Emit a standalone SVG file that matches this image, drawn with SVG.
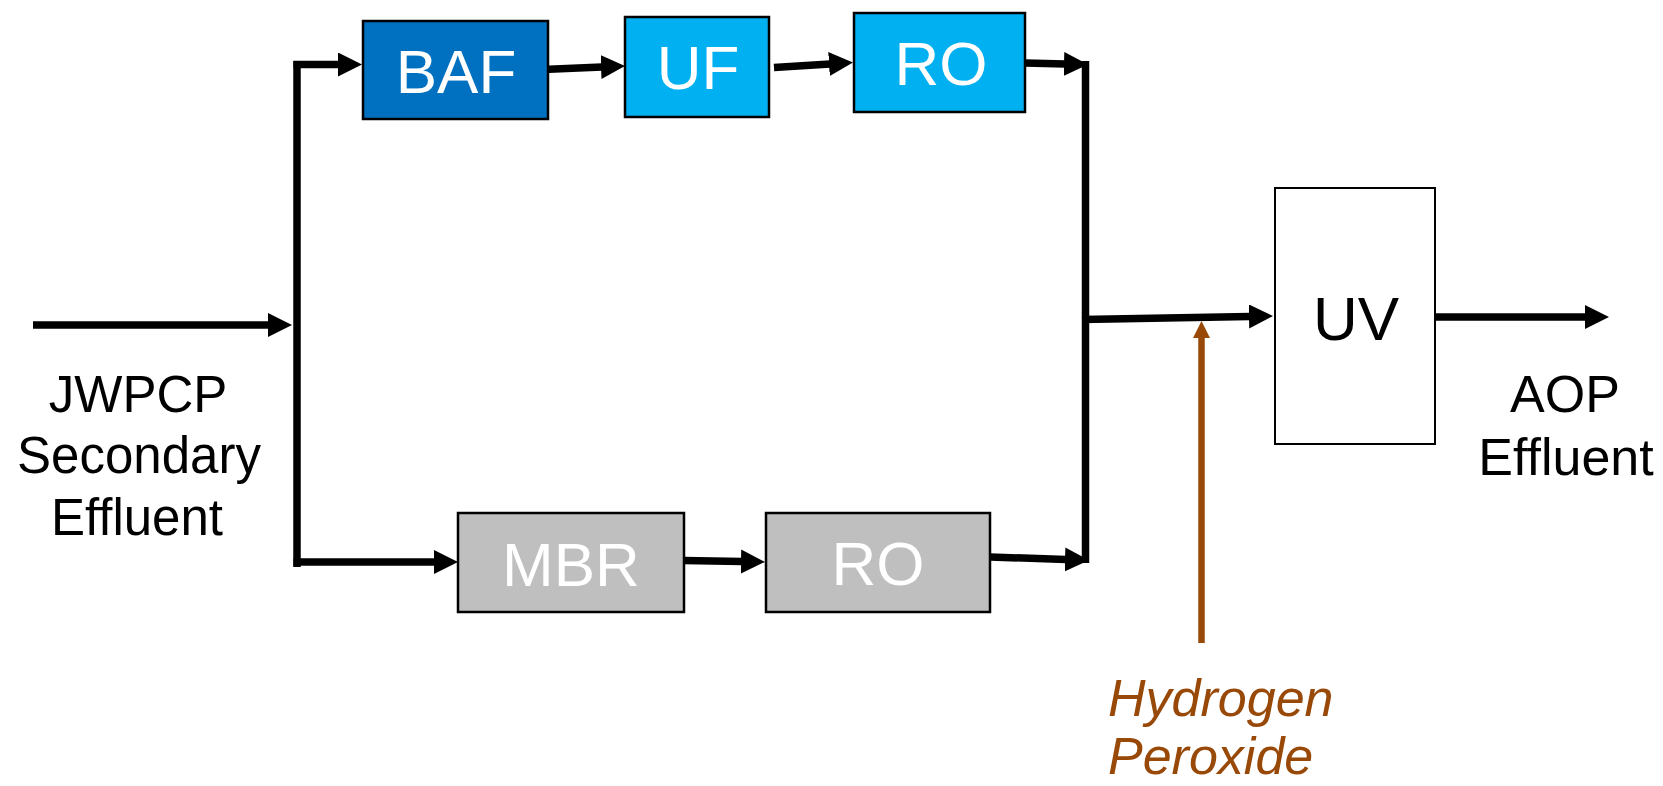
<svg xmlns="http://www.w3.org/2000/svg" width="1663" height="786" viewBox="0 0 1663 786">
  <style>
    .box { stroke: #000; stroke-width: 2.5; }
    .lbl { font-family: "Liberation Sans", Arial, sans-serif; font-size: 62px; text-anchor: middle; }
    .w { fill: #fff; }
    .side { font-family: "Liberation Sans", Arial, sans-serif; font-size: 51px; text-anchor: middle; fill: #000; }
    .h2o2 { font-family: "Liberation Sans", Arial, sans-serif; font-size: 52px; font-style: italic; fill: #984807; }
    .flow { fill: none; stroke: #000; stroke-width: 7.5; stroke-linecap: butt; }
    .brown { fill: none; stroke: #984807; stroke-width: 6.5; }
  </style>
  <defs>
    <marker id="ah" markerUnits="userSpaceOnUse" markerWidth="25" markerHeight="25" refX="1" refY="12" orient="auto">
      <path d="M0,0 L24,12 L0,24 Z" fill="#000"/>
    </marker>
    <marker id="ahb" markerUnits="userSpaceOnUse" markerWidth="18" markerHeight="18" refX="1" refY="8.5" orient="auto">
      <path d="M0,0 L17,8.5 L0,17 Z" fill="#984807"/>
    </marker>
  </defs>
  <rect width="1663" height="786" fill="#fff"/>

  <g id="connectors">
    <line class="flow" x1="33" y1="325" x2="269" y2="325" marker-end="url(#ah)"/>
    <line class="flow" x1="297" y1="61" x2="297" y2="567"/>
    <line class="flow" x1="293.5" y1="64.5" x2="339" y2="64.5" marker-end="url(#ah)"/>
    <line class="flow" x1="293.5" y1="562" x2="435" y2="562" marker-end="url(#ah)"/>
    <line class="flow" x1="543" y1="69.5" x2="602" y2="67" marker-end="url(#ah)"/>
    <line class="flow" x1="774" y1="67.5" x2="830" y2="64" marker-end="url(#ah)"/>
    <line class="flow" x1="1025" y1="63" x2="1065" y2="64" marker-end="url(#ah)"/>
    <line class="flow" x1="1085.5" y1="61" x2="1085.5" y2="563"/>
    <line class="flow" x1="684" y1="560.5" x2="742" y2="561.5" marker-end="url(#ah)"/>
    <line class="flow" x1="990" y1="557" x2="1066" y2="559.5" marker-end="url(#ah)"/>
    <line class="flow" x1="1082" y1="319.5" x2="1250" y2="316.5" marker-end="url(#ah)"/>
    <line class="flow" x1="1432" y1="317" x2="1586" y2="317" marker-end="url(#ah)"/>
    <line class="brown" x1="1201.5" y1="643" x2="1201.5" y2="337" marker-end="url(#ahb)"/>
  </g>

  <g id="baf">
    <rect class="box" x="363" y="21" width="185" height="98" fill="#0070C0"/>
    <text class="lbl w" x="456" y="93">BAF</text>
  </g>
  <g id="uf">
    <rect class="box" x="625" y="17" width="144" height="100" fill="#00B0F0"/>
    <text class="lbl w" x="698" y="89">UF</text>
  </g>
  <g id="ro-top">
    <rect class="box" x="854" y="13" width="171" height="99" fill="#00B0F0"/>
    <text class="lbl w" x="941" y="85">RO</text>
  </g>
  <g id="mbr">
    <rect class="box" x="458" y="513" width="226" height="99" fill="#BFBFBF"/>
    <text class="lbl w" x="571" y="586">MBR</text>
  </g>
  <g id="ro-bottom">
    <rect class="box" x="766" y="513" width="224" height="99" fill="#BFBFBF"/>
    <text class="lbl w" x="878" y="585">RO</text>
  </g>
  <g id="uv">
    <rect x="1275" y="188" width="160" height="256" fill="#fff" stroke="#000" stroke-width="2"/>
    <text class="lbl" x="1356" y="340" fill="#000">UV</text>
  </g>
  <g id="source">
    <text class="side" x="138" y="412">JWPCP</text>
    <text class="side" x="139" y="473">Secondary</text>
    <text class="side" x="137" y="535">Effluent</text>
  </g>
  <g id="product">
    <text class="side" x="1565" y="412" style="font-size:52px">AOP</text>
    <text class="side" x="1566" y="475" style="font-size:52px">Effluent</text>
  </g>
  <g id="hydrogen-peroxide">
    <text class="h2o2" x="1108" y="716">Hydrogen</text>
    <text class="h2o2" x="1108" y="774">Peroxide</text>
  </g>
</svg>
